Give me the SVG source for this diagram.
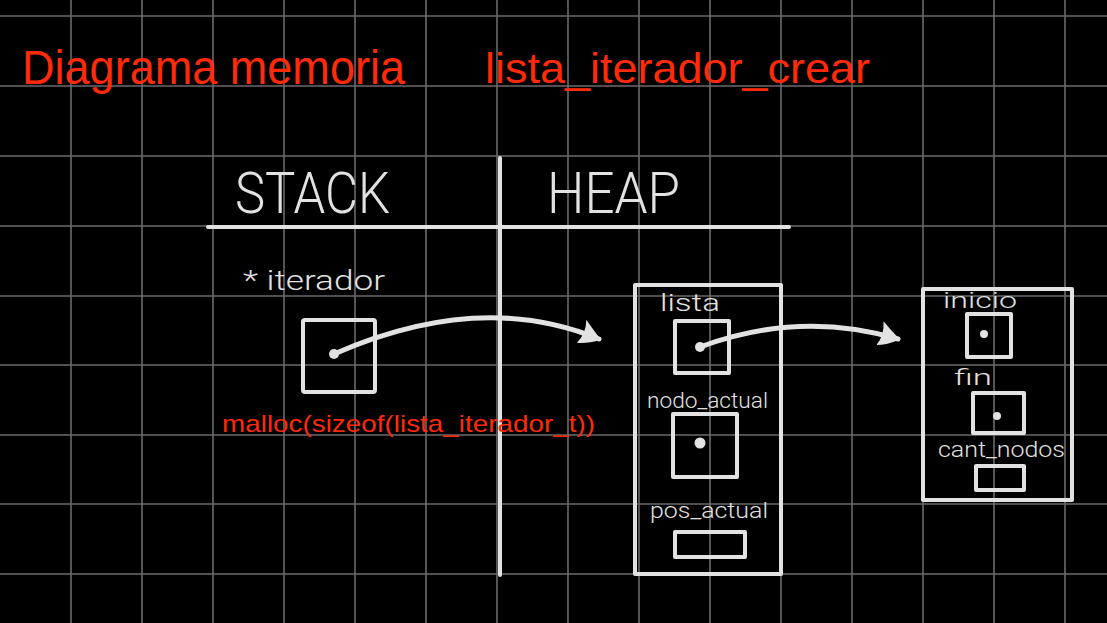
<svg xmlns="http://www.w3.org/2000/svg" width="1107" height="623" viewBox="0 0 1107 623">
<style>
.grid{stroke:#6a6a6a;stroke-width:1.6;fill:none}
.ink{stroke:#e2e2e2;stroke-width:4;fill:none;stroke-linecap:round;stroke-linejoin:round}
.dot{fill:#e2e2e2}
.red{fill:#ff2a0a;font-family:"Liberation Sans",Arial,sans-serif}
.wt{fill:#e2e2e2;font-family:Roboto,"Liberation Sans",sans-serif;font-weight:300}
.conn{stroke:#e2e2e2;stroke-width:5;fill:none;stroke-linecap:round}
</style>
<defs>
<marker id="ah" markerUnits="userSpaceOnUse" markerWidth="30" markerHeight="30" refX="19" refY="13" orient="auto" viewBox="0 0 30 30">
<path d="M0,0 Q9,6 21,13 Q10,22 0,25 Q5,13 0,0 Z" fill="#e2e2e2"/>
</marker>
</defs>
<rect width="1107" height="623" fill="#000"/>
<g id="grid" class="grid">
<path d="M71,0V623M142,0V623M213,0V623M284,0V623M355,0V623M426,0V623M497,0V623M568,0V623M639,0V623M710,0V623M781,0V623M852,0V623M923,0V623M994,0V623M1065,0V623"/>
<path d="M0,16H1107M0,86H1107M0,156H1107M0,226H1107M0,296H1107M0,365H1107M0,435H1107M0,504H1107M0,574H1107"/>
</g>
<g id="title">
<text class="red" x="22" y="84" font-size="48" textLength="383" lengthAdjust="spacingAndGlyphs">Diagrama memoria</text>
<text class="red" x="485" y="83" font-size="42" textLength="385" lengthAdjust="spacingAndGlyphs">lista_iterador_crear</text>
</g>
<g id="table">
<path class="ink" d="M500,158V575M208,227H789"/>
<text class="wt" x="235" y="213" font-size="58" textLength="155" lengthAdjust="spacingAndGlyphs">STACK</text>
<text class="wt" x="547" y="213" font-size="58" textLength="133" lengthAdjust="spacingAndGlyphs">HEAP</text>
</g>
<g id="stack-iterador">
<text class="wt" x="243" y="290" font-size="28" textLength="142" lengthAdjust="spacingAndGlyphs">* iterador</text>
<rect class="ink" x="303" y="320" width="72" height="72" rx="2"/>
<circle class="dot" cx="334" cy="354" r="5"/>
<text class="red" x="222" y="432" font-size="24" textLength="373" lengthAdjust="spacingAndGlyphs">malloc(sizeof(lista_iterador_t))</text>
</g>
<g id="heap-iterador">
<rect class="ink" x="635" y="285" width="146" height="289"/>
<text class="wt" x="660" y="311" font-size="24" textLength="60" lengthAdjust="spacingAndGlyphs">lista</text>
<rect class="ink" x="675" y="321" width="54" height="52"/>
<circle class="dot" cx="700" cy="347" r="5"/>
<text class="wt" x="647" y="408" font-size="22" textLength="121" lengthAdjust="spacingAndGlyphs">nodo_actual</text>
<rect class="ink" x="673" y="414" width="64" height="63"/>
<circle class="dot" cx="700" cy="443" r="5.5"/>
<text class="wt" x="650" y="518" font-size="22" textLength="118" lengthAdjust="spacingAndGlyphs">pos_actual</text>
<rect class="ink" x="675" y="532" width="70" height="25"/>
</g>
<g id="heap-lista">
<rect class="ink" x="923" y="289" width="149" height="211"/>
<text class="wt" x="943" y="308" font-size="22" textLength="74" lengthAdjust="spacingAndGlyphs">inicio</text>
<rect class="ink" x="967" y="314" width="44" height="43"/>
<circle class="dot" cx="984" cy="334" r="4"/>
<text class="wt" x="954" y="385" font-size="22" textLength="38" lengthAdjust="spacingAndGlyphs">fin</text>
<rect class="ink" x="973" y="393" width="51" height="40"/>
<circle class="dot" cx="997" cy="416" r="4"/>
<text class="wt" x="938" y="457" font-size="22" textLength="127" lengthAdjust="spacingAndGlyphs">cant_nodos</text>
<rect class="ink" x="976" y="466" width="48" height="24"/>
</g>
<g id="connectors">
<path class="conn" d="M334,354 Q480,290 599,339" marker-end="url(#ah)"/>
<path class="conn" d="M700,347 Q800,310 898,339" marker-end="url(#ah)"/>
</g>
</svg>
